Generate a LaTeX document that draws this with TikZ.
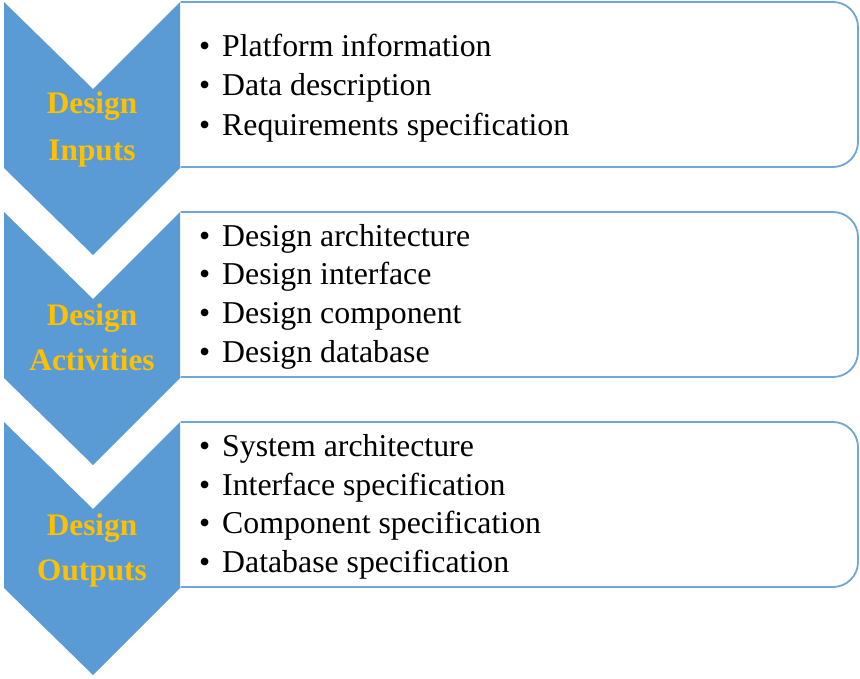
\documentclass[tikz,border=0pt]{standalone}
\usepackage{fontspec}
\setmainfont{Liberation Serif}
\definecolor{chev}{HTML}{5B9BD5}
\definecolor{boxline}{HTML}{6FA6DA}
\definecolor{gold}{HTML}{FFC000}
\begin{document}
\begin{tikzpicture}[x=1pt,y=-1pt,
  itemtext/.style={anchor=base west, inner sep=0pt, font=\fontsize{31.8}{38}\selectfont, text=black},
  steplabel/.style={anchor=base, inner sep=0pt, font=\fontsize{31.3}{38}\selectfont\bfseries, text=gold},
  chevshape/.style={fill=chev, draw=none},
  boxshape/.style={draw=boxline, line width=1.8pt, fill=white, rounded corners=25pt}]
\useasboundingbox (0,0) rectangle (860,678);
\fill[white] (0,0) rectangle (860,678);
\foreach \t in {2,212,422}{
  \draw[boxshape] (180.5,\t) -- (858,\t) -- (858,\t+165) -- (180.5,\t+165);
  \fill[chevshape] (4,\t) -- (93,\t+87) -- (180,\t) -- (180,\t+166) -- (93,\t+253) -- (4,\t+166) -- cycle;
}
\newcommand{\bul}{\makebox[23pt][l]{\textbullet}}
% block 1
\node[steplabel] (l1a) at (92,113) {Design};
\node[steplabel] (l1b) at (92,160) {Inputs};
\node[itemtext] (i11) at (199,56) {\bul Platform information};
\node[itemtext] (i12) at (199,95) {\bul Data description};
\node[itemtext] (i13) at (199,135) {\bul Requirements specification};
% block 2
\node[steplabel] (l2a) at (92,325) {Design};
\node[steplabel] (l2b) at (92,370) {Activities};
\node[itemtext] (i21) at (199,246) {\bul Design architecture};
\node[itemtext] (i22) at (199,284) {\bul Design interface};
\node[itemtext] (i23) at (199,323) {\bul Design component};
\node[itemtext] (i24) at (199,362) {\bul Design database};
% block 3
\node[steplabel] (l3a) at (92,535) {Design};
\node[steplabel] (l3b) at (92,580) {Outputs};
\node[itemtext] (i31) at (199,456) {\bul System architecture};
\node[itemtext] (i32) at (199,495) {\bul Interface specification};
\node[itemtext] (i33) at (199,533) {\bul Component specification};
\node[itemtext] (i34) at (199,572) {\bul Database specification};
\end{tikzpicture}
\end{document}
